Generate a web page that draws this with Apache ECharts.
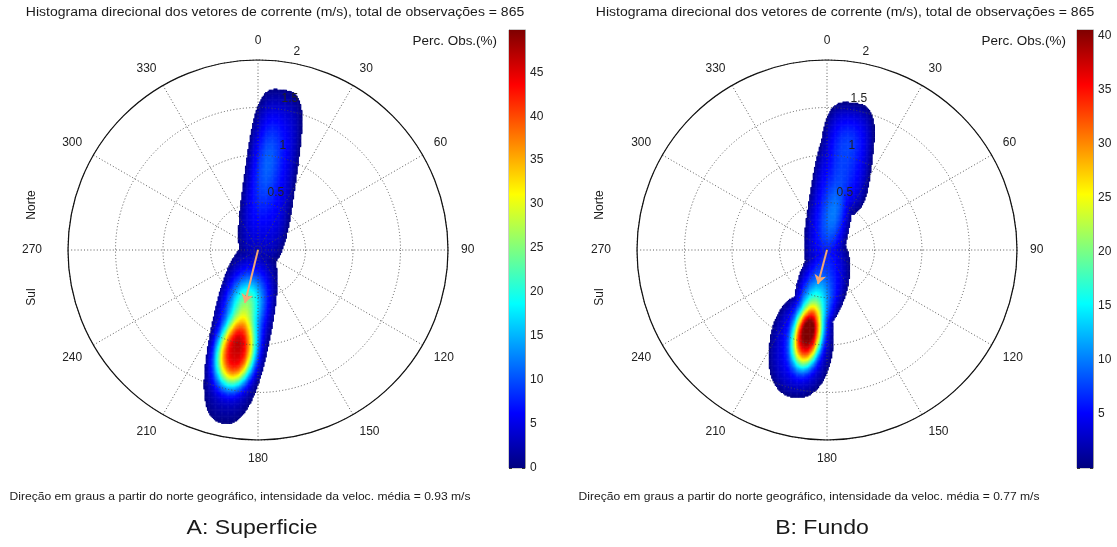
<!DOCTYPE html>
<html><head><meta charset="utf-8">
<script src="https://cdn.jsdelivr.net/npm/echarts@6/dist/echarts.min.js"></script>
<style>html,body{margin:0;padding:0;background:#fff}#c{width:1117px;height:547px}</style>
</head><body><div id="c"></div>
<script>
// ---------------- data ----------------
const titleText = 'Histograma direcional dos vetores de corrente (m/s), total de observações = 865';
const footerA = 'Direção em graus a partir do norte geográfico, intensidade da veloc. média = 0.93 m/s';
const footerB = 'Direção em graus a partir do norte geográfico, intensidade da veloc. média = 0.77 m/s';
const panelNameA = 'A: Superficie';
const panelNameB = 'B: Fundo';
const radiusMax = 2;            // m/s
const radiusInterval = 0.5;
const angleInterval = 30;
const colorMaxA = 49.8;         // % of observations
const colorMaxB = 40.5;
const colorInterval = 5;
// jet colormap
const jetColors = ['#00007F','#0000FF','#007FFF','#00FFFF','#7FFF7F','#FFFF00','#FF7F00','#FF0000','#7F0000'];
// Density "envelope" kernels: [direction deg, speed m/s, orientation deg, half-length, half-width, level %, shape]
const envelopeA = [
  [9.4, 0.773, 8, 0.94, 0.274, 6, 3.5],
  [192.0, 0.887, 11.4, 0.98, 0.316, 5, 2.5]
];
// Density "core" kernels: [direction deg, speed m/s, orientation deg, sigma along, sigma across, peak %, shape]
const coreA = [
  [6.5, 0.922, 8, 0.34, 0.095, 5, 1],
  [192.1, 1.109, 11.4, 0.274, 0.155, 40, 1.5],
  [192.3, 0.593, 11.4, 0.21, 0.126, 20, 1]
];
const envelopeB = [
  [11.5, 0.98, 7, 0.60, 0.28, 5.5, 3.2],
  [5.0, 0.545, 9, 0.82, 0.235, 5, 3],
  [188.0, 0.383, 16, 0.54, 0.265, 5, 2],
  [195.2, 1.047, 8, 0.55, 0.337, 5, 2.2]
];
const coreB = [
  [9.4, 0.384, 10, 0.30, 0.09, 5, 1],
  [10.7, 1.136, 6, 0.20, 0.10, 2, 1],
  [192.8, 0.95, 10, 0.24, 0.115, 30, 1.5],
  [192.9, 0.659, 14, 0.232, 0.105, 14, 1]
];
// mean current vector: [direction deg, speed m/s]
const meanVecA = [193.8, 0.574];
const meanVecB = [194.9, 0.37];
// ------------------------------------------------------------

const FONT = "'Liberation Sans', Arial, sans-serif";
const DEG = Math.PI / 180;
const cellStep = 0.0125;
const edgePower = 3;

function toEN(dir, spd) { return [spd * Math.sin(dir * DEG), spd * Math.cos(dir * DEG)]; }
function local(k, e, n) {
  const c = toEN(k[0], k[1]);
  const ue = Math.sin(k[2] * DEG), un = Math.cos(k[2] * DEG);
  const de = e - c[0], dn = n - c[1];
  return [de * ue + dn * un, de * un - dn * ue];
}
function density(env, core, e, n) {
  let ev = 0;
  for (const k of env) {
    const l = local(k, e, n);
    const m = k[6];
    const r = Math.pow(Math.pow(Math.abs(l[0] / k[3]), m) + Math.pow(Math.abs(l[1] / k[4]), m), 1 / m);
    if (r < 1) ev = Math.max(ev, k[5] * (1 - Math.pow(r, edgePower)));
  }
  if (ev <= 0.12) return null;
  let cv = 0;
  for (const k of core) {
    const l = local(k, e, n);
    const q2 = (l[0] / k[3]) ** 2 + (l[1] / k[4]) ** 2;
    cv += k[5] * Math.exp(-0.5 * Math.pow(q2, k[6]));
  }
  return ev + cv;
}
function buildCells(env, core) {
  const out = [];
  const N = Math.round(2 * radiusMax / cellStep);
  for (let i = 0; i < N; i++) for (let j = 0; j < N; j++) {
    const e = -radiusMax + (i + 0.5) * cellStep, n = -radiusMax + (j + 0.5) * cellStep;
    if (e * e + n * n > radiusMax * radiusMax) continue;
    const v = density(env, core, e, n);
    if (v !== null) out.push([e, n, v]);
  }
  return out;
}

const panels = [
  { cx: 258, cy: 250, cells: buildCells(envelopeA, coreA), vec: meanVecA, cmax: colorMaxA, cbLeft: 509, showZero: true },
  { cx: 827, cy: 250, cells: buildCells(envelopeB, coreB), vec: meanVecB, cmax: colorMaxB, cbLeft: 1077, showZero: false }
];
const R = 190;

const grid = [], xAxis = [], yAxis = [], polar = [], angleAxis = [], radiusAxis = [], series = [], visualMap = [];
const dotted = { color: '#4a4a4a', width: 0.9, type: [1, 2.2] };

panels.forEach((p, idx) => {
  grid.push({ left: p.cx - R, top: p.cy - R, width: 2 * R, height: 2 * R, show: false });
  xAxis.push({ gridIndex: grid.length - 1, type: 'value', min: -radiusMax, max: radiusMax, show: false });
  yAxis.push({ gridIndex: grid.length - 1, type: 'value', min: -radiusMax, max: radiusMax, show: false });
  const gi = grid.length - 1;
  series.push({
    type: 'custom', xAxisIndex: gi, yAxisIndex: gi, data: p.cells, z: 1, silent: true,
    progressive: 0, animation: false, encode: { x: 0, y: 1 },
    renderItem: function (params, api) {
      const e = api.value(0), n = api.value(1);
      const pt = api.coord([e - cellStep / 2, n + cellStep / 2]);
      const sz = api.size([cellStep, cellStep]);
      return { type: 'rect', shape: { x: pt[0], y: pt[1], width: sz[0] + 0.5, height: sz[1] + 0.5 },
               style: { fill: api.visual('color') } };
    }
  });
  visualMap.push({ type: 'continuous', show: false, seriesIndex: series.length - 1, dimension: 2,
                   min: 0, max: p.cmax, inRange: { color: jetColors } });
  const tip = toEN(p.vec[0], p.vec[1]);
  series.push({
    type: 'lines', coordinateSystem: 'cartesian2d', xAxisIndex: gi, yAxisIndex: gi, z: 6, silent: true,
    symbol: ['none', 'arrow'], symbolSize: [0, 9],
    lineStyle: { color: '#F4A876', width: 2, opacity: 1 },
    data: [{ coords: [[0, 0], tip] }]
  });

  polar.push({ center: [p.cx, p.cy], radius: R });
  const pi = polar.length - 1;
  angleAxis.push({
    polarIndex: pi, type: 'value', min: 0, max: 360, interval: angleInterval, startAngle: 90, clockwise: true, z: 3,
    axisLine: { show: true, lineStyle: { color: '#111', width: 1.2 } },
    axisTick: { show: false },
    splitLine: { show: true, lineStyle: dotted },
    axisLabel: { margin: 13, color: '#222', fontSize: 12, fontFamily: FONT,
      formatter: v => (v >= 360 ? '' : (v === 270 ? '{w|270}' : String(v))),
      rich: { w: { padding: [0, 13, 0, 0], fontSize: 12, fontFamily: FONT, color: '#222' } } }
  });
  radiusAxis.push({
    polarIndex: pi, type: 'value', min: 0, max: radiusMax, interval: radiusInterval, z: 3,
    axisLine: { show: false }, axisTick: { show: false }, axisLabel: { show: false },
    splitLine: { show: true, lineStyle: dotted }
  });
});

panels.forEach(p => {
  polar.push({ center: [p.cx + 11, p.cy - 10], radius: R });
  const pi = polar.length - 1;
  angleAxis.push({ polarIndex: pi, type: 'value', min: 0, max: 360, startAngle: 81.6, show: false });
  radiusAxis.push({
    polarIndex: pi, type: 'value', min: 0, max: radiusMax, interval: radiusInterval, z: 7,
    axisLine: { show: false }, axisTick: { show: false }, splitLine: { show: false },
    axisLabel: { show: true, margin: 0, align: 'center', verticalAlign: 'middle', showMinLabel: false,
                 color: '#222', fontSize: 12, fontFamily: FONT }
  });
});

panels.forEach(p => {
  grid.push({ left: p.cbLeft, top: 30, width: 16, height: 438, show: true, borderColor: '#9a9a9a', borderWidth: 1, backgroundColor: 'transparent' });
  const gi = grid.length - 1;
  xAxis.push({ gridIndex: gi, type: 'category', data: ['c'], show: false });
  const fmt = v => (Math.abs(v % colorInterval) < 1e-9 && (p.showZero || v > 0) ? String(v) : '');
  yAxis.push({ gridIndex: gi, type: 'value', min: 0, max: p.cmax, interval: colorInterval, position: 'right',
    axisLine: { show: true, lineStyle: { color: '#9a9a9a' } },
    axisTick: { show: true, inside: true, length: 3, lineStyle: { color: '#333' } },
    splitLine: { show: false },
    axisLabel: { color: '#222', fontSize: 12, fontFamily: FONT, margin: 5, formatter: fmt } });
  yAxis.push({ gridIndex: gi, type: 'value', min: 0, max: p.cmax, interval: colorInterval, position: 'left',
    axisLine: { show: true, lineStyle: { color: '#9a9a9a' } },
    axisTick: { show: true, inside: true, length: 3, lineStyle: { color: '#333' } },
    splitLine: { show: false }, axisLabel: { show: false } });
  series.push({
    type: 'bar', xAxisIndex: xAxis.length - 1, yAxisIndex: yAxis.length - 2, data: [p.cmax], barWidth: '100%', silent: true, z: 1,
    itemStyle: { color: new echarts.graphic.LinearGradient(0, 1, 0, 0,
      jetColors.map((c, i) => ({ offset: i / (jetColors.length - 1), color: c }))) }
  });
});

function txt(x, y, text, size, align, rot, sx) {
  return { type: 'text', x: x, y: y, rotation: rot || 0, scaleX: sx || 1, silent: true,
    style: { text: text, align: align || 'center', verticalAlign: 'middle', fontSize: size, fontFamily: FONT, fill: '#1a1a1a' } };
}
const graphic = [
  txt(275, 13, titleText, 12.5, 'center', 0, 1.12), txt(845, 13, titleText, 12.5, 'center', 0, 1.12),
  txt(497, 42, 'Perc. Obs.(%)', 12, 'right', 0, 1.12), txt(1066, 42, 'Perc. Obs.(%)', 12, 'right', 0, 1.12),
  txt(32, 205, 'Norte', 12, 'center', Math.PI / 2), txt(32, 297, 'Sul', 12, 'center', Math.PI / 2),
  txt(600, 205, 'Norte', 12, 'center', Math.PI / 2), txt(600, 297, 'Sul', 12, 'center', Math.PI / 2),
  txt(240, 497, footerA, 11, 'center', 0, 1.1), txt(809, 497, footerB, 11, 'center', 0, 1.1),
  txt(252, 528, panelNameA, 21, 'center', 0, 1.1), txt(822, 528, panelNameB, 21, 'center', 0, 1.1)
];

const chart = echarts.init(document.getElementById('c'));
chart.setOption({
  animation: false,
  backgroundColor: '#fff',
  grid, xAxis, yAxis, polar, angleAxis, radiusAxis, visualMap, series, graphic
});
</script>
</body></html>
